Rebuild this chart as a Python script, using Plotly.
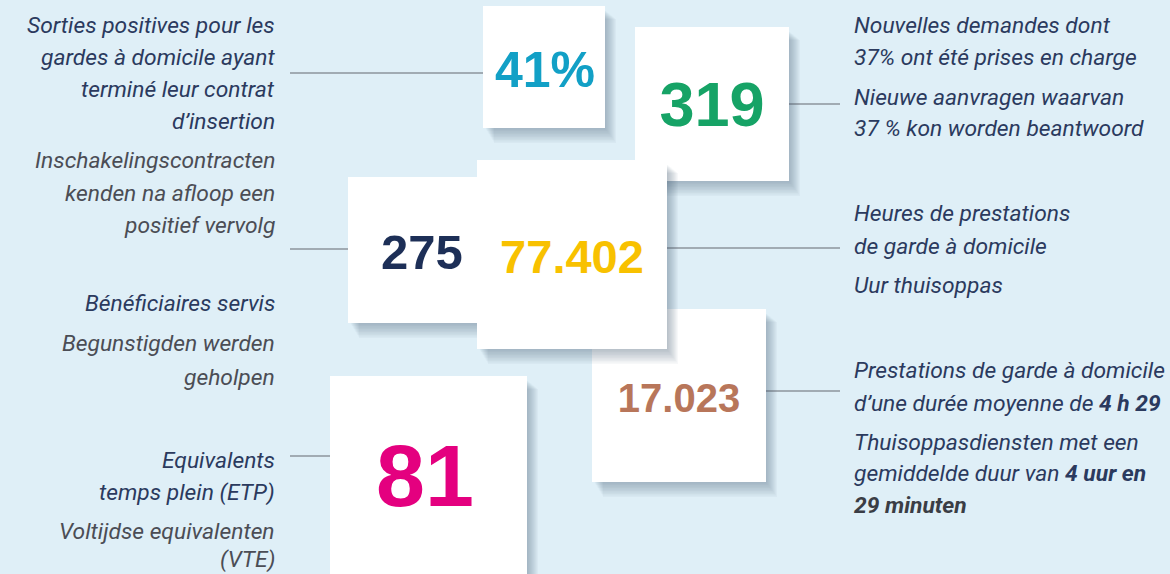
import plotly.graph_objects as go

# ---------------- data ----------------
values = ["41%", "319", "17.023", "275", "77.402", "81"]
value_colors = ["#12a0c6", "#16a366", "#b8765a", "#1d2f57", "#f8c100", "#e4007f"]
value_sizes = [50, 63, 40, 49, 47, 88]
value_x = [545, 712, 679, 422, 572, 425]
value_y = [68, 104, 396, 251, 255, 478]

# boxes: x0, x1, y0, y1 (in drawing order)
box_x0 = [483, 635, 592, 348, 477, 330]
box_x1 = [605, 789, 766, 500, 667, 527]
box_y0 = [6, 27, 309, 177, 160, 376]
box_y1 = [128, 181, 482, 323, 349, 580]

# connector lines: x0, x1, y
line_x0 = [290, 789, 290, 667, 766, 290]
line_x1 = [483, 840, 348, 840, 840, 330]
line_y = [73, 104, 249, 248, 391, 456]

FR = "#2b3a5e"
NL = "#4b4d55"

left_texts = ["Sorties positives pour les", "gardes à domicile ayant", "terminé leur contrat",
              "d’insertion", "Inschakelingscontracten", "kenden na afloop een",
              "positief vervolg", "Bénéficiaires servis", "Begunstigden werden",
              "geholpen", "Equivalents", "temps plein (ETP)",
              "Voltijdse equivalenten", "(VTE)"]
left_y = [25, 57, 89, 121, 160, 193, 225, 303, 343, 377, 460, 492, 531, 559]
left_col = [FR, FR, FR, FR, NL, NL, NL, FR, NL, NL, FR, FR, NL, NL]

right_texts = ["Nouvelles demandes dont", "37% ont été prises en charge",
               "Nieuwe aanvragen waarvan", "37 % kon worden beantwoord",
               "Heures de prestations", "de garde à domicile", "Uur thuisoppas",
               "Prestations de garde à domicile",
               "d’une durée moyenne de <b>4 h 29</b>",
               "Thuisoppasdiensten met een",
               "gemiddelde duur van <b>4 uur en</b>",
               "<b>29 minuten</b>"]
right_y = [25, 57, 97, 128, 213, 246, 285, 370, 403, 442, 473, 505]
right_col = [FR, FR, FR, FR, FR, FR, FR, FR, FR, FR, FR, "#3a3d45"]

BG = "#dfeff7"
W, H = 1170, 574
TXT = 22.8
NUM_DY = 6  # vertical correction for text centring

fig = go.Figure()

shapes = []
# connector lines
for x0, x1, y in zip(line_x0, line_x1, line_y):
    shapes.append(dict(type="line", x0=x0, x1=x1, y0=y, y1=y, xref="x", yref="y",
                       line=dict(color="#8d959c", width=1.3), layer="below"))
# boxes with soft shadows
for x0, x1, y0, y1 in zip(box_x0, box_x1, box_y0, box_y1):
    for i in range(1, 11):
        shapes.append(dict(type="rect", x0=x0 + 2 + i * 0.9, x1=x1 + i * 1.1,
                           y0=y0 + 4 + i * 0.9, y1=y1 + i * 1.5, xref="x", yref="y",
                           line=dict(width=0), fillcolor="rgba(70,95,115,0.045)",
                           layer="below"))
    shapes.append(dict(type="rect", x0=x0, x1=x1, y0=y0, y1=y1, xref="x", yref="y",
                       line=dict(width=0), fillcolor="white", layer="below"))

fig.add_trace(go.Scatter(
    x=value_x, y=[v + NUM_DY for v in value_y], mode="text", text=values,
    textposition="middle center",
    textfont=dict(family="Liberation Sans, Arial", size=value_sizes,
                  color=value_colors, weight="bold"),
    hoverinfo="skip", showlegend=False))

annotations = []
for t, y, c in zip(left_texts, left_y, left_col):
    annotations.append(dict(x=277, y=y, xref="x", yref="y", text=t, showarrow=False,
                            xanchor="right", yanchor="middle",
                            font=dict(family="Roboto", size=TXT, color=c, style="italic")))
for t, y, c in zip(right_texts, right_y, right_col):
    annotations.append(dict(x=852, y=y, xref="x", yref="y", text=t, showarrow=False,
                            xanchor="left", yanchor="middle",
                            font=dict(family="Roboto", size=TXT, color=c, style="italic")))

fig.update_layout(
    width=W, height=H, margin=dict(l=0, r=0, t=0, b=0),
    paper_bgcolor=BG, plot_bgcolor=BG,
    xaxis=dict(range=[0, W], visible=False, fixedrange=True),
    yaxis=dict(range=[H, 0], visible=False, fixedrange=True),
    shapes=shapes, annotations=annotations, showlegend=False,
)

fig.write_html("out.html", config={"displayModeBar": False},
               post_script="document.body.style.margin='0';"
                           "document.body.style.overflow='hidden';")
